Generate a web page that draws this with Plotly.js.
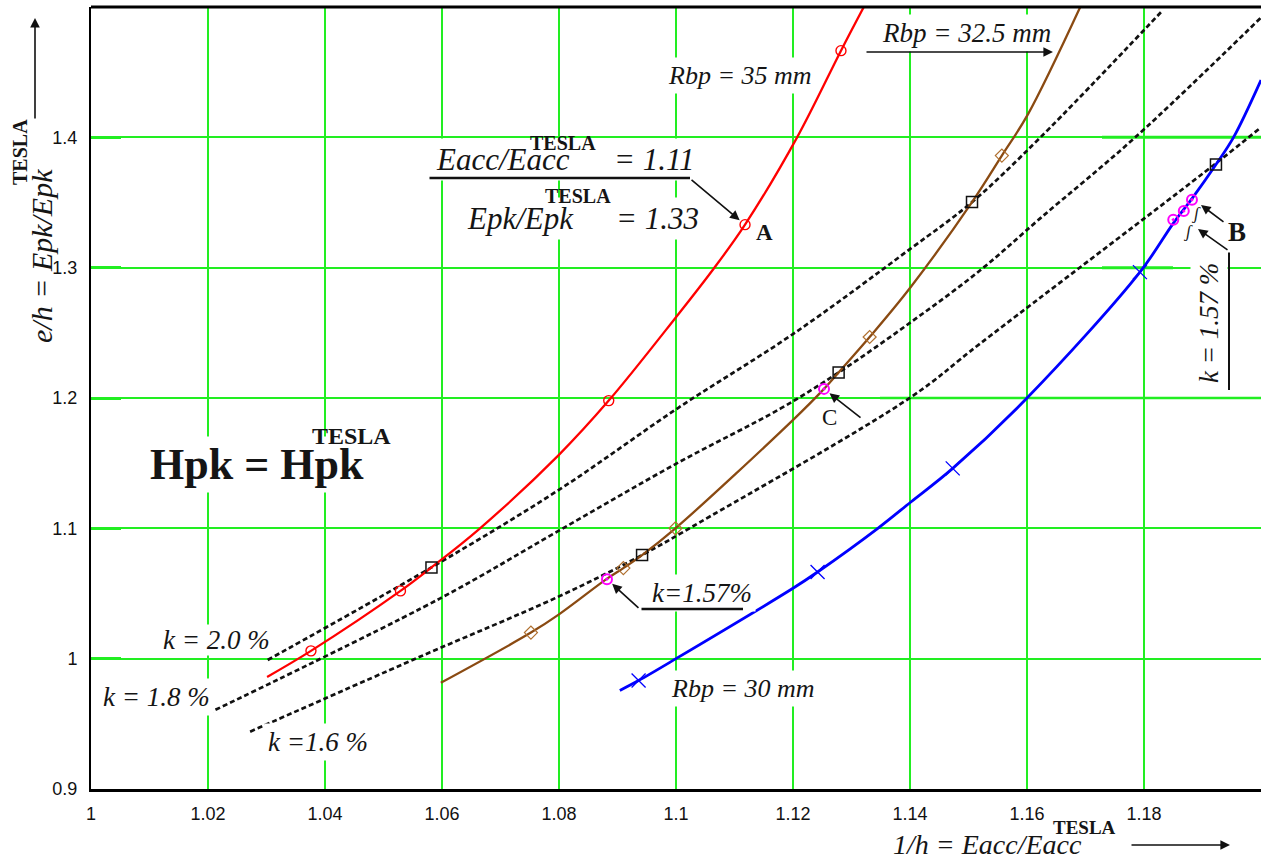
<!DOCTYPE html>
<html><head><meta charset="utf-8">
<script src="https://cdn.plot.ly/plotly-3.0.1.min.js"></script>
<style>html,body{margin:0;padding:0;background:#fff;overflow:hidden}#chart{width:1261px;height:863px}</style>
</head><body><div id="chart"></div>
<script>
// ---- tick labels ----
const xTickVals = [1, 1.02, 1.04, 1.06, 1.08, 1.1, 1.12, 1.14, 1.16, 1.18];
const xTickText = ['1', '1.02', '1.04', '1.06', '1.08', '1.1', '1.12', '1.14', '1.16', '1.18'];
const yTickVals = [0.9, 1.0, 1.1, 1.2, 1.3, 1.4];
const yTickText = ['0.9', '1', '1.1', '1.2', '1.3', '1.4'];

// ---- Rbp = 35 mm (red) ----
const redX = [1.0301, 1.0376, 1.0529, 1.0582, 1.0665, 1.0799, 1.0885, 1.1000, 1.1064, 1.1118, 1.1207, 1.1282, 1.1321];
const redY = [0.986, 1.006, 1.052, 1.070, 1.100, 1.156, 1.198, 1.262, 1.299, 1.333, 1.400, 1.4665, 1.500];
const redMarkX = [1.0376, 1.0529, 1.0885, 1.1118, 1.1282];
const redMarkY = [1.006, 1.052, 1.198, 1.333, 1.4665];

// ---- Rbp = 32.5 mm (brown) ----
const brownX = [1.0598, 1.0752, 1.0800, 1.0881, 1.0910, 1.0942, 1.0999, 1.1202, 1.1253, 1.1278, 1.1331, 1.1401, 1.1506, 1.1557, 1.1602, 1.1691];
const brownY = [0.9815, 1.020, 1.034, 1.061, 1.0695, 1.0795, 1.100, 1.184, 1.207, 1.2196, 1.2468, 1.285, 1.3503, 1.386, 1.418, 1.500];
const brownMarkX = [1.0752, 1.0910, 1.0999, 1.1331, 1.1557];
const brownMarkY = [1.020, 1.0695, 1.100, 1.2468, 1.386];

// ---- Rbp = 30 mm (blue) ----
const blueX = [1.0904, 1.0936, 1.1000, 1.1200, 1.1242, 1.1345, 1.1402, 1.1473, 1.1600, 1.1793, 1.1850, 1.1882, 1.1923, 1.1953, 1.2000];
const blueY = [0.9756, 0.9832, 1.000, 1.054, 1.0665, 1.100, 1.1204, 1.146, 1.200, 1.2966, 1.334, 1.353, 1.3792, 1.400, 1.444];
const blueMarkX = [1.0936, 1.1242, 1.1473, 1.1793];
const blueMarkY = [0.9832, 1.0665, 1.146, 1.2966];

// ---- coupling constant lines (dashed) ----
const k20X = [1.0302, 1.0582, 1.0799, 1.1004, 1.1201, 1.1401, 1.1506, 1.1623, 1.1831];
const k20Y = [0.999, 1.070, 1.1293, 1.1925, 1.2494, 1.3146, 1.3503, 1.400, 1.497];
const k18X = [1.0200, 1.0597, 1.0799, 1.1002, 1.1179, 1.1278, 1.1401, 1.1520, 1.1623, 1.1785, 1.2000];
const k18Y = [0.958, 1.0463, 1.098, 1.150, 1.192, 1.2196, 1.258, 1.298, 1.338, 1.400, 1.4919];
const k16X = [1.0272, 1.0563, 1.0799, 1.0942, 1.1042, 1.1402, 1.1520, 1.1922, 1.2000];
const k16Y = [0.944, 1.0016, 1.0476, 1.0795, 1.105, 1.2008, 1.2418, 1.3797, 1.4077];

// ---- special points ----
const sqX = [1.0582, 1.0942, 1.1278, 1.1506, 1.1923];
const sqY = [1.0699, 1.0795, 1.2196, 1.3503, 1.3792];
const pinkX = [1.0882, 1.1253, 1.1850, 1.1868, 1.1882];
const pinkY = [1.061, 1.207, 1.3368, 1.3434, 1.3521];

// ---- page geometry ----
const W = 1261, H = 863, ML = 91, MR = 0, MT = 7, MB = 74;
const PW = W - ML - MR, PH = H - MT - MB;
const px = v => (v - ML) / PW;
const py = v => (H - MB - v) / PH;

const SERIF = 'Liberation Serif, Times New Roman, serif';
const GREEN = '#22ee22';
const BROWN = '#8a4a12';

const curve = (x, y, color, width, dash) => ({
  x, y, type: 'scatter', mode: 'lines', hoverinfo: 'skip', showlegend: false,
  line: {color, width, dash: dash || 'solid', shape: 'spline', smoothing: 1}
});
const marks = (x, y, symbol, color, size, lw) => ({
  x, y, type: 'scatter', mode: 'markers', hoverinfo: 'skip', showlegend: false,
  marker: {symbol, size, color, line: {color, width: lw}}
});

const DASH = '5px,3px';
const data = [
  curve(k20X, k20Y, '#111', 2.7, DASH),
  curve(k18X, k18Y, '#111', 2.7, DASH),
  curve(k16X, k16Y, '#111', 2.7, DASH),
  curve(redX, redY, '#ff0000', 2.3),
  curve(brownX, brownY, BROWN, 2.3),
  curve(blueX, blueY, '#0000ff', 2.8),
  marks(redMarkX, redMarkY, 'circle-open', '#ff0000', 10, 1.4),
  marks(brownMarkX, brownMarkY, 'diamond-open', '#b07030', 10, 1.2),
  marks(blueMarkX, blueMarkY, 'x-thin-open', '#0000ff', 14, 1.3),
  marks(sqX, sqY, 'square-open', '#111', 11, 1.5),
  marks(pinkX, pinkY, 'circle-open-dot', '#ff00ff', 10, 2)
];

function txt(text, x, y, size, opts) {
  return Object.assign({
    xref: 'paper', yref: 'paper', x: px(x), y: py(y), text, showarrow: false,
    xanchor: 'center', yanchor: 'middle',
    font: {family: SERIF, size, color: '#151515'}
  }, opts || {});
}
function arrowPx(hx, hy, tx, ty, opts) {
  return Object.assign({
    xref: 'paper', yref: 'paper', x: px(hx), y: py(hy), ax: tx - hx, ay: ty - hy,
    axref: 'pixel', ayref: 'pixel', text: '', showarrow: true,
    arrowhead: 2, arrowsize: 1.2, arrowwidth: 1.6, arrowcolor: '#111'
  }, opts || {});
}
function arrowData(x, y, ax, ay) {
  return {xref: 'x', yref: 'y', x, y, ax, ay, text: '', showarrow: true,
    arrowhead: 2, arrowsize: 1.2, arrowwidth: 1.6, arrowcolor: '#111', standoff: 7};
}
const rule = (x0, y0, x1, y1, w) => arrowPx(x1, y1, x0, y0, {arrowhead: 0, arrowwidth: w});
const WB = {bgcolor: 'white', borderpad: 3};

const annotations = [
  txt('<i>Rbp = 35 mm</i>', 739, 75, 26, WB),
  txt('<i>Rbp = 32.5 mm</i>', 966, 33, 27, WB),
  txt('<i>Eacc/Eacc</i>', 432, 160, 31, Object.assign({xanchor: 'left'}, WB)),
  txt('<i>= 1.11</i>', 610, 160, 31, Object.assign({xanchor: 'left'}, WB)),
  txt('<b>TESLA</b>', 528, 143, 20, {xanchor: 'left'}),
  txt('<i>Epk/Epk</i>', 463, 218, 31, Object.assign({xanchor: 'left'}, WB)),
  txt('<i>= 1.33</i>', 612, 218, 31, Object.assign({xanchor: 'left'}, WB)),
  txt('<b>TESLA</b>', 543, 196, 20, {xanchor: 'left'}),
  txt('<b>A</b>', 764, 233, 23),
  txt('<b>Hpk = Hpk</b>', 146, 464, 44, Object.assign({xanchor: 'left'}, WB)),
  txt('<b>TESLA</b>', 310, 436, 24, {xanchor: 'left'}),
  txt('<i>k = 2.0 %</i>', 216, 640, 27, {bgcolor: 'white', borderpad: 0}),
  txt('<i>k = 1.8 %</i>', 156, 697, 27, WB),
  txt('<i>k =1.6 %</i>', 318, 742, 27, WB),
  txt('<i>k=1.57%</i>', 702, 593, 27, WB),
  txt('<i>Rbp = 30 mm</i>', 742, 688, 26, WB),
  txt('C', 829, 417, 23, WB),
  txt('<i>k = 1.57 %</i>', 1209, 323, 27, Object.assign({textangle: -90}, WB)),
  txt('<b>B</b>', 1237, 232, 27),
  txt('<i>ʃ</i>', 1196, 214, 17),
  txt('<i>ʃ</i>', 1188, 231, 17),
  // axis titles
  txt('<i>e/h = Epk/Epk</i>', 41, 256, 30, {textangle: -90}),
  txt('<b>TESLA</b>', 20, 152, 20, {textangle: -90}),
  txt('<i>1/h = Eacc/Eacc</i>', 987, 845, 28),
  txt('<b>TESLA</b>', 1084, 827, 19),
  // callout rules (drawn above the label boxes)
  rule(428, 178, 690, 178, 2.5),
  rule(640, 609, 743, 609, 2.5),
  rule(1229, 251, 1229, 390, 2),
  // arrows
  arrowPx(35, 18, 35, 120),
  arrowPx(1230, 845, 1130, 845),
  arrowPx(1053, 52, 865, 52),
  arrowData(redMarkX[3], redMarkY[3], -55, -46),
  arrowData(pinkX[1], pinkY[1], 38, 30),
  arrowData(pinkX[0], pinkY[0], 33, 30),
  arrowPx(1201, 205, 1225, 223),
  arrowPx(1198, 229, 1229, 251)
];

const shapes = [
  {type: 'line', xref: 'paper', yref: 'paper', x0: 0, x1: 1, y0: 1, y1: 1, line: {color: '#000', width: 3}},
  {type: 'line', xref: 'paper', yref: 'y', x0: px(1102), x1: 1, y0: yTickVals[5], y1: yTickVals[5], line: {color: GREEN, width: 3}, layer: 'below'},
  {type: 'line', xref: 'paper', yref: 'y', x0: px(1102), x1: px(1173), y0: yTickVals[4], y1: yTickVals[4], line: {color: GREEN, width: 3}, layer: 'below'},
  {type: 'line', xref: 'paper', yref: 'y', x0: px(880), x1: 1, y0: yTickVals[3], y1: yTickVals[3], line: {color: GREEN, width: 2.5}, layer: 'below'}
];

const layout = {
  width: W, height: H,
  margin: {l: ML, r: MR, t: MT, b: MB, pad: 0},
  paper_bgcolor: 'white', plot_bgcolor: 'white',
  font: {family: SERIF, color: '#111'},
  showlegend: false,
  xaxis: {
    range: [1, 1.2], tickmode: 'array', tickvals: xTickVals, ticktext: xTickText,
    showgrid: true, gridcolor: GREEN, gridwidth: 1.6, zeroline: false,
    showline: true, linecolor: '#000', linewidth: 3, ticks: '',
    ticklabelstandoff: 6,
    tickfont: {family: 'Liberation Sans, Arial, sans-serif', size: 18, color: '#111'}
  },
  yaxis: {
    range: [0.9, 1.5], tickmode: 'array', tickvals: yTickVals, ticktext: yTickText,
    showgrid: true, gridcolor: GREEN, gridwidth: 2, zeroline: false,
    showline: true, linecolor: '#000', linewidth: 2,
    ticks: 'inside', ticklen: 30, tickwidth: 3, tickcolor: GREEN,
    ticklabelstandoff: 8,
    tickfont: {family: 'Liberation Sans, Arial, sans-serif', size: 18, color: '#111'}
  },
  annotations, shapes
};

Plotly.newPlot('chart', data, layout, {displayModeBar: false, staticPlot: true});
</script></body></html>
